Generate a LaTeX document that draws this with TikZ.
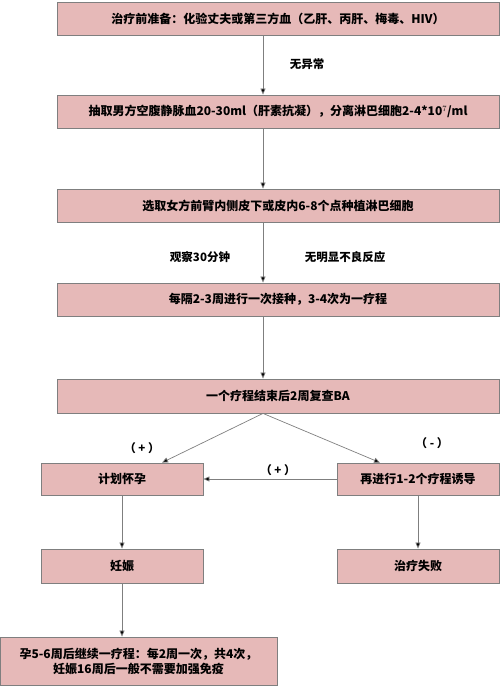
\documentclass[tikz,border=0pt]{standalone}
\usepackage{fontspec}
\setmainfont{Noto Sans CJK SC}
\usepackage{xcolor}
\usetikzlibrary{arrows.meta,positioning,calc}
\definecolor{boxpink}{HTML}{E6B9B8}
\definecolor{edgegray}{HTML}{7F7F7F}

\tikzset{
  stepbox/.style={draw=edgegray, fill=boxpink, line width=0.8pt, inner sep=0pt,
    minimum height=33pt, font=\bfseries\fontsize{12}{15}\selectfont, align=center},
  widebox/.style={stepbox, minimum width=442pt},
  halfbox/.style={stepbox, minimum width=162pt},
  flow/.style={draw=edgegray, line width=0.7pt, -{Triangle[length=6pt,width=5pt,fill=black]}},
  tag/.style={font=\bfseries\fontsize{11.5}{13}\selectfont}
}

\begin{document}
\begin{tikzpicture}[x=1pt,y=-1pt]
\useasboundingbox (0,0) rectangle (500,686);
\coordinate (axis) at (263,0);

% main column
\node[widebox] (prep) at (278,18.5) {治疗前准备：化验丈夫或第三方血（乙肝、丙肝、梅毒、HIV）};
\node[widebox] (blood) at (278,111.5) {抽取男方空腹静脉血20-30ml（肝素抗凝），分离淋巴细胞2-4*10$^{7}$/ml};
\node[widebox] (implant) at (278,205.5) {选取女方前臂内侧皮下或皮内6-8个点种植淋巴细胞};
\node[widebox] (vacc) at (278,299.5) {每隔2-3周进行一次接种，3-4次为一疗程};
\node[widebox, minimum height=34pt] (check) at (278,396) {一个疗程结束后2周复查BA};

% branches
\node[halfbox, minimum height=32pt] (plan) at (122,479) {计划怀孕};
\node[halfbox, minimum height=32pt] (induce) at (418,479) {再进行1-2个疗程诱导};
\node[halfbox, minimum height=34pt] (preg) at (122,566) {妊娠};
\node[halfbox, minimum height=34pt] (fail) at (418,566) {治疗失败};
\node[stepbox, minimum width=277pt, minimum height=48pt] (cont) at (138.5,661)
  {孕5-6周后继续一疗程：每2周一次，共4次，\\妊娠16周后一般不需要加强免疫};

% connectors
\draw[flow] (prep.south -| axis) -- (blood.north -| axis);
\draw[flow] (blood.south -| axis) -- (implant.north -| axis);
\draw[flow] (implant.south -| axis) -- (vacc.north -| axis);
\draw[flow] (vacc.south -| axis) -- (check.north -| axis);
\draw[flow] (check.south -| axis) -- ($(plan.north)+(40,0)$);
\draw[flow] (check.south -| axis) -- ($(induce.north)+(-38,0)$);
\draw[flow] (induce.west) -- (plan.east);
\draw[flow] (plan.south) -- (preg.north);
\draw[flow] (induce.south) -- (fail.north);
\draw[flow] (preg.south -| plan.south) -- (cont.north -| plan.south);

% labels
\node[tag] (ok) at (307,64) {无异常};
\node[tag] (watch) at (200,257) {观察30分钟};
\node[tag] (noreact) at (345,257) {无明显不良反应};
\node[tag] (posl) at (142,448) {（~+~）};
\node[tag] (negr) at (432,443) {（~-~）};
\node[tag] (posm) at (278,470) {（~+~）};
\end{tikzpicture}
\end{document}
